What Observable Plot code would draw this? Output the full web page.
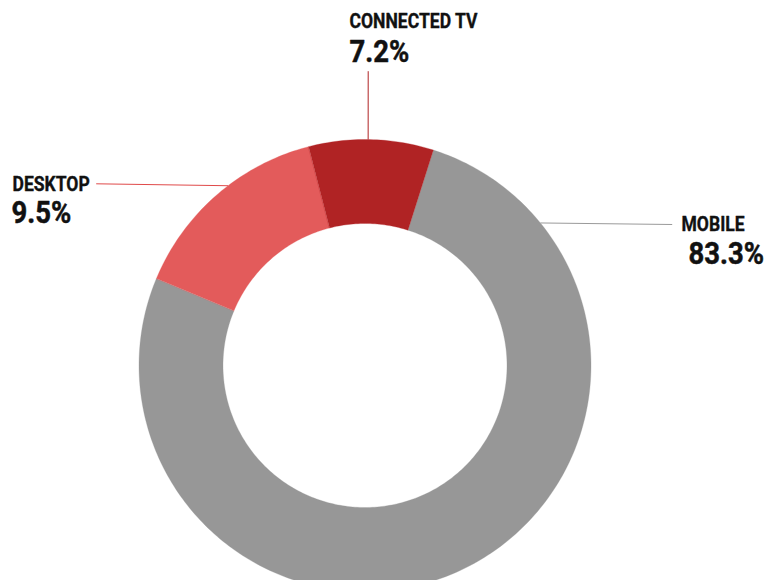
<!DOCTYPE html>
<html><head><meta charset="utf-8">
<script src="https://cdn.jsdelivr.net/npm/d3@7"></script>
<script src="https://cdn.jsdelivr.net/npm/@observablehq/plot@0.6"></script>
<style>html,body{margin:0;padding:0;background:#fff;} #chart svg{display:block}</style>
</head><body><div id="chart"></div>
<script>
// ---- data ----
const categories = ["MOBILE", "DESKTOP", "CONNECTED TV"];
const printedPercents = ["83.3%", "9.5%", "7.2%"];
// slice shares as actually drawn in the reference (angular size of each ring segment)
const drawnShares = [76.4, 14.7, 8.9];
const sliceColors = ["#979797", "#E35B5B", "#B02324"];
const leaderColors = ["#9a9a9a", "#E04A4A", "#B02324"];

// ---- layout ----
const W = 764, H = 580;
const cx = 364.5, cy = 365, R = 226, r = 142;
const startDeg = 17.6;
const FONT = "Roboto, 'Liberation Sans', sans-serif";
const CONDENSE = 0.9;
const labelPos = {
  "MOBILE":       {nameX: 681, nameY: 230,   valueX: 688, valueY: 263.5, leaderDeg: 50.9,  endX: 671.7, endY: 224},
  "DESKTOP":      {nameX: 12,  nameY: 190.7, valueX: 11,  valueY: 222.7, leaderDeg: -37.3, endX: 95.7,  endY: 183.3},
  "CONNECTED TV": {nameX: 349, nameY: 27.3,  valueX: 349, valueY: 61.7,  leaderDeg: 0.8,   endX: 367.7, endY: 70.7}
};

const rows = categories.map((c, i) => ({category: c, share: drawnShares[i], label: printedPercents[i], color: sliceColors[i], leader: leaderColors[i]}));

const rad = d => d * Math.PI / 180;
const pie = d3.pie().sort(null).value(d => d.share)
  .startAngle(rad(startDeg)).endAngle(rad(startDeg) + 2 * Math.PI);
const arcs = pie(rows);

function ringPoints(a0, a1) {
  const n = Math.max(8, Math.ceil((a1 - a0) / rad(1)));
  const pts = [];
  for (let k = 0; k <= n; k++) { const a = a0 + (a1 - a0) * k / n; pts.push({x: cx + R * Math.sin(a), y: cy - R * Math.cos(a)}); }
  for (let k = n; k >= 0; k--) { const a = a0 + (a1 - a0) * k / n; pts.push({x: cx + r * Math.sin(a), y: cy - r * Math.cos(a)}); }
  return pts;
}

const sliceMarks = arcs.map(a => Plot.line(ringPoints(a.startAngle, a.endAngle), {
  x: "x", y: "y", fill: a.data.color, stroke: a.data.color, strokeWidth: 0.3, curve: "linear-closed"
}));

const leaders = rows.map(d => {
  const p = labelPos[d.category];
  const a = rad(p.leaderDeg);
  return {x1: cx + R * Math.sin(a), y1: cy - R * Math.cos(a), x2: p.endX, y2: p.endY, color: d.leader};
});

const names = rows.map(d => ({x: labelPos[d.category].nameX, y: labelPos[d.category].nameY, text: d.category}));
const values = rows.map(d => ({x: labelPos[d.category].valueX, y: labelPos[d.category].valueY, text: d.label}));

const chart = Plot.plot({
  width: W, height: H,
  margin: 0,
  x: {domain: [0, W], range: [0, W], axis: null},
  y: {domain: [0, H], range: [0, H], axis: null},
  marks: [
    ...sliceMarks,
    ...leaders.map(l => Plot.link([l], {x1: "x1", y1: "y1", x2: "x2", y2: "y2", stroke: l.color, strokeWidth: 1})),
    Plot.text(names, {x: "x", y: "y", text: "text", textAnchor: "start", lineAnchor: "bottom",
      fontSize: 19.5, fontWeight: "bold", fontFamily: FONT, fill: "#111", stroke: "#111", strokeWidth: 0.35}),
    Plot.text(values, {x: "x", y: "y", text: "text", textAnchor: "start", lineAnchor: "bottom",
      fontSize: 30.5, fontWeight: "bold", fontFamily: FONT, fill: "#111", stroke: "#111", strokeWidth: 0.5})
  ]
});
// condense the label glyphs horizontally (Roboto Condensed look) around each text's anchor
d3.select(chart).selectAll("text").each(function() {
  const t = this.getAttribute("transform");
  if (t && t.includes("translate")) {
    this.setAttribute("transform", t + ` scale(${CONDENSE},1)`);
  } else {
    const x = +this.getAttribute("x") || 0;
    this.setAttribute("transform", `translate(${x},0) scale(${CONDENSE},1) translate(${-x},0)`);
  }
});
document.getElementById("chart").appendChild(chart);
</script>
</body></html>
